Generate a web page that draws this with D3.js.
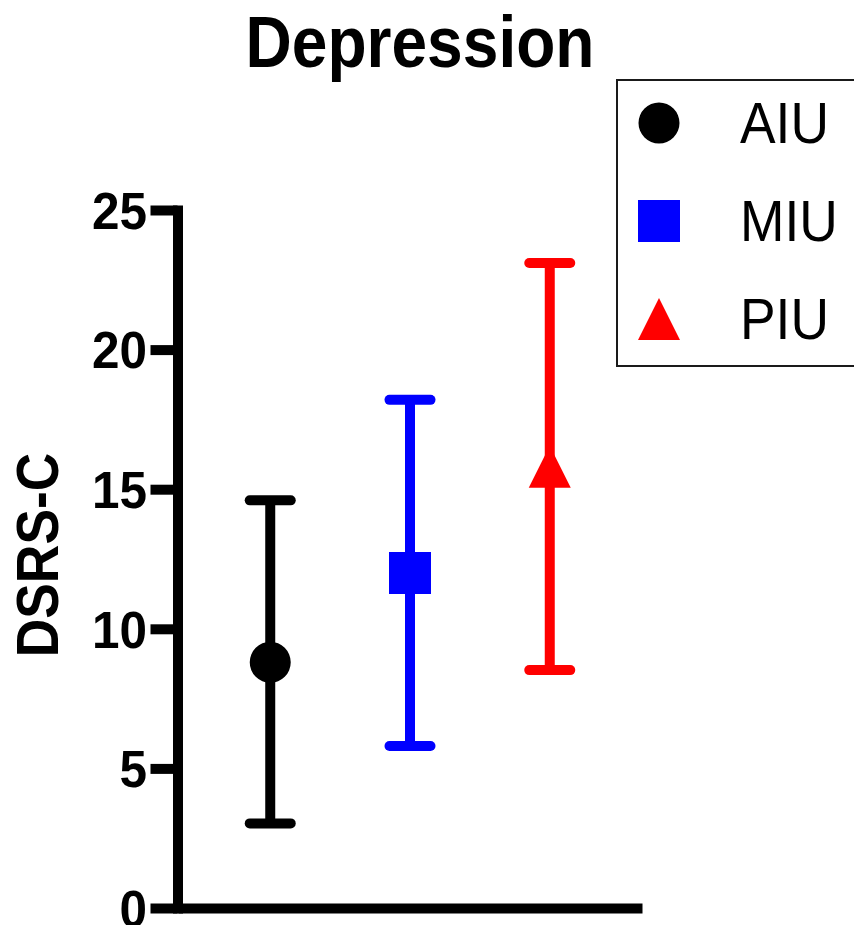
<!DOCTYPE html>
<html>
<head>
<meta charset="utf-8">
<script src="https://cdn.jsdelivr.net/npm/d3@7"></script>
<style>
  body { margin: 0; background: #fff; }
  svg { display: block; }
  text { font-family: "Liberation Sans", Arial, Helvetica, sans-serif; }
</style>
</head>
<body>
<div id="chart"></div>
<script>
"use strict";

// groups and their summary values (DSRS-C)
var groups = ["AIU", "MIU", "PIU"];
var means  = [8.8, 12.0, 15.8];
var lows   = [3.03, 5.8, 8.52];
var highs  = [14.6, 18.2, 23.1];
var colors = ["#000000", "#0000ff", "#ff0000"];
var shapes = ["circle", "square", "triangle"];
var yTicks = [0, 5, 10, 15, 20, 25];

var width = 854, height = 925;

var svg = d3.select("#chart").append("svg")
  .attr("width", width)
  .attr("height", height);

var x = d3.scalePoint().domain(groups).range([178, 642]).padding(0.66);
var y = d3.scaleLinear().domain([0, 25]).range([908, 210]);

// squeeze text a bit, the original font is narrower than Arial
function squeeze(sel, k){
  sel.each(function(){
    var w = this.getComputedTextLength();
    d3.select(this).attr("textLength", w * k).attr("lengthAdjust", "spacingAndGlyphs");
  });
}

// title
svg.append("text")
  .attr("x", 420)
  .attr("y", 67)
  .attr("text-anchor", "middle")
  .attr("font-size", "72px")
  .attr("font-weight", "bold")
  .text("Depression")
  .call(squeeze, 0.89);

// y axis
var yAxis = svg.append("g")
  .attr("transform", "translate(177.5,0)")
  .call(d3.axisLeft(y).tickValues(yTicks).tickSize(27).tickSizeOuter(0).tickPadding(3.5));
yAxis.select(".domain").attr("stroke-width", 10).attr("stroke-linecap", "square");
yAxis.selectAll(".tick line").attr("stroke-width", 10);
yAxis.selectAll(".tick text")
  .attr("font-size", "51px")
  .attr("font-weight", "bold")
  .attr("font-family", "'Liberation Sans', Arial, sans-serif")
  .attr("dy", "0.36em")
  .call(squeeze, 0.97);

// x axis, just the line
var xAxis = svg.append("g")
  .attr("transform", "translate(0,908)")
  .call(d3.axisBottom(x).tickValues([]).tickSizeOuter(0));
xAxis.select(".domain").attr("stroke-width", 10);

// y label
svg.append("text")
  .attr("transform", "translate(58,555) rotate(-90)")
  .attr("text-anchor", "middle")
  .attr("font-size", "60px")
  .attr("font-weight", "bold")
  .text("DSRS-C")
  .call(squeeze, 0.89);

function symbolPath(shape){
  if(shape == "circle") return d3.symbol(d3.symbolCircle, Math.PI * 20.5 * 20.5)();
  if(shape == "square") return d3.symbol(d3.symbolSquare, 42 * 42)();
  // flat triangle, 42 wide and 42 tall, centered on its box
  return "M0,-21L21,21L-21,21Z";
}

var data = groups.map(function(g, i){
  return {name: g, mean: means[i], lo: lows[i], hi: highs[i], color: colors[i], shape: shapes[i]};
});

var bars = svg.append("g").selectAll("g")
  .data(data)
  .enter()
    .append("g");

bars.append("line")
  .attr("x1", function(d){ return x(d.name); })
  .attr("x2", function(d){ return x(d.name); })
  .attr("y1", function(d){ return y(d.lo); })
  .attr("y2", function(d){ return y(d.hi); })
  .attr("stroke", function(d){ return d.color; })
  .attr("stroke-width", 10);

["lo", "hi"].forEach(function(k){
  bars.append("line")
    .attr("x1", function(d){ return x(d.name) - 20.5; })
    .attr("x2", function(d){ return x(d.name) + 20.5; })
    .attr("y1", function(d){ return y(d[k]); })
    .attr("y2", function(d){ return y(d[k]); })
    .attr("stroke", function(d){ return d.color; })
    .attr("stroke-width", 10)
    .attr("stroke-linecap", "round");
});

bars.append("path")
  .attr("d", function(d){ return symbolPath(d.shape); })
  .attr("transform", function(d){ return "translate(" + x(d.name) + "," + y(d.mean) + ")"; })
  .attr("fill", function(d){ return d.color; });

// legend
var legend = svg.append("g");
legend.append("rect")
  .attr("x", 617)
  .attr("y", 80)
  .attr("width", 260)
  .attr("height", 286)
  .attr("fill", "none")
  .attr("stroke", "#1a1a1a")
  .attr("stroke-width", 2);

var rows = legend.selectAll("g.row")
  .data(data)
  .enter()
    .append("g")
    .attr("class", "row")
    .attr("transform", function(d, i){ return "translate(0," + (i * 98) + ")"; });

rows.append("path")
  .attr("d", function(d){ return symbolPath(d.shape); })
  .attr("transform", "translate(659,123)")
  .attr("fill", function(d){ return d.color; });

rows.append("text")
  .attr("x", 740)
  .attr("y", 143)
  .attr("font-size", "58px")
  .text(function(d){ return d.name; })
  .call(squeeze, 0.92);
</script>
</body>
</html>
